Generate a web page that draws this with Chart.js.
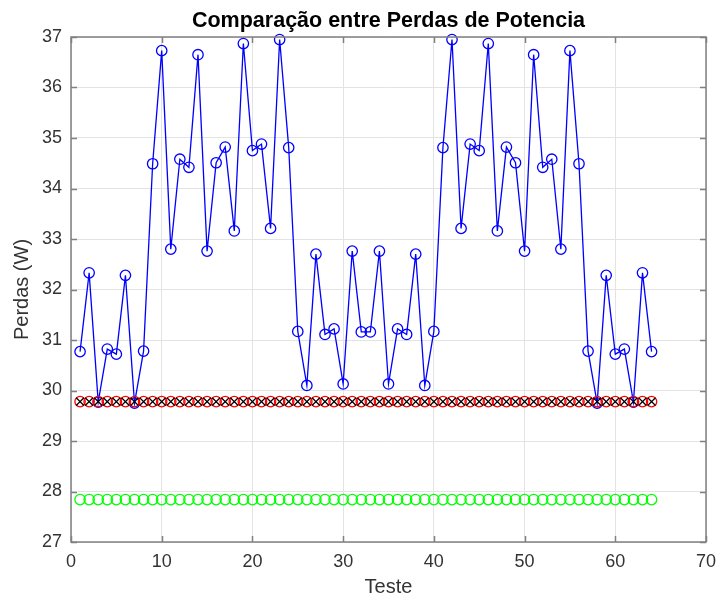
<!DOCTYPE html>
<html>
<head>
<meta charset="utf-8">
<script src="https://cdn.jsdelivr.net/npm/chart.js@4"></script>
<style>
  html, body { margin: 0; padding: 0; background: #ffffff; }
  #wrap { width: 718px; height: 598px; position: relative; }
</style>
</head>
<body>
<div id="wrap"><canvas id="c"></canvas></div>
<script>
// ---- data ----
const testes = [1,2,3,4,5,6,7,8,9,10,11,12,13,14,15,16,17,18,19,20,21,22,23,24,25,26,27,28,29,30,31,32,
                33,34,35,36,37,38,39,40,41,42,43,44,45,46,47,48,49,50,51,52,53,54,55,56,57,58,59,60,61,62,63,64];
const perdasAzul = [30.77,32.33,29.77,30.82,30.72,32.28,29.75,30.78,34.49,36.73,32.80,34.58,34.42,36.65,32.76,34.51,
                    34.82,33.16,36.87,34.75,34.88,33.21,36.95,34.81,31.17,30.10,32.70,31.11,31.22,30.13,32.76,31.16,
                    31.16,32.76,30.13,31.22,31.11,32.70,30.10,31.17,34.81,36.95,33.21,34.88,34.75,36.87,33.16,34.82,
                    34.51,32.76,36.65,34.42,34.58,32.80,36.73,34.49,30.78,29.75,32.28,30.72,30.82,29.77,32.33,30.77];
const perdasVermelho = [29.78,29.78,29.78,29.78,29.78,29.78,29.78,29.78,29.78,29.78,29.78,29.78,29.78,29.78,29.78,29.78,
                        29.78,29.78,29.78,29.78,29.78,29.78,29.78,29.78,29.78,29.78,29.78,29.78,29.78,29.78,29.78,29.78,
                        29.78,29.78,29.78,29.78,29.78,29.78,29.78,29.78,29.78,29.78,29.78,29.78,29.78,29.78,29.78,29.78,
                        29.78,29.78,29.78,29.78,29.78,29.78,29.78,29.78,29.78,29.78,29.78,29.78,29.78,29.78,29.78,29.78];
const perdasPreto = [29.78,29.78,29.78,29.78,29.78,29.78,29.78,29.78,29.78,29.78,29.78,29.78,29.78,29.78,29.78,29.78,
                     29.78,29.78,29.78,29.78,29.78,29.78,29.78,29.78,29.78,29.78,29.78,29.78,29.78,29.78,29.78,29.78,
                     29.78,29.78,29.78,29.78,29.78,29.78,29.78,29.78,29.78,29.78,29.78,29.78,29.78,29.78,29.78,29.78,
                     29.78,29.78,29.78,29.78,29.78,29.78,29.78,29.78,29.78,29.78,29.78,29.78,29.78,29.78,29.78,29.78];
const perdasVerde = [27.84,27.84,27.84,27.84,27.84,27.84,27.84,27.84,27.84,27.84,27.84,27.84,27.84,27.84,27.84,27.84,
                     27.84,27.84,27.84,27.84,27.84,27.84,27.84,27.84,27.84,27.84,27.84,27.84,27.84,27.84,27.84,27.84,
                     27.84,27.84,27.84,27.84,27.84,27.84,27.84,27.84,27.84,27.84,27.84,27.84,27.84,27.84,27.84,27.84,
                     27.84,27.84,27.84,27.84,27.84,27.84,27.84,27.84,27.84,27.84,27.84,27.84,27.84,27.84,27.84,27.84];
const xTicks = [0,10,20,30,40,50,60,70];
const yTicks = [27,28,29,30,31,32,33,34,35,36,37];
const titulo = 'Comparação entre Perdas de Potencia';
const xLabel = 'Teste';
const yLabel = 'Perdas (W)';

const pts = (vals) => testes.map((t, i) => ({x: t, y: vals[i]}));

const FONT = "'Liberation Sans', Arial, Helvetica, sans-serif";
const TXT = '#333333';

const boxPlugin = {
  id: 'matlabBox',
  afterDatasetsDraw(chart) {
    const {ctx, chartArea: {left, right, top, bottom}, scales: {x, y}} = chart;
    ctx.save();
    ctx.strokeStyle = '#808080';
    ctx.lineWidth = 1.5;
    ctx.beginPath();
    x.ticks.forEach(t => {
      const px = Math.round(x.getPixelForValue(t.value)) + 0.5;
      ctx.moveTo(px, bottom); ctx.lineTo(px, bottom - 6);
      ctx.moveTo(px, top); ctx.lineTo(px, top + 6);
    });
    y.ticks.forEach(t => {
      const py = Math.round(y.getPixelForValue(t.value)) + 0.5;
      ctx.moveTo(left, py); ctx.lineTo(left + 6, py);
      ctx.moveTo(right, py); ctx.lineTo(right - 6, py);
    });
    ctx.stroke();
    ctx.strokeRect(left, top, right - left, bottom - top);
    ctx.restore();
  }
};

new Chart(document.getElementById('c'), {
  type: 'line',
  data: {
    datasets: [
      { label: 'azul', data: pts(perdasAzul), borderColor: '#0000ff', backgroundColor: 'rgba(0,0,0,0)',
        borderWidth: 1.3, pointStyle: 'circle', pointRadius: 5.2, pointBorderWidth: 1.3,
        pointBorderColor: '#0000ff', pointBackgroundColor: 'rgba(0,0,0,0)', showLine: true, tension: 0,
        order: 3, clip: false },
      { label: 'vermelho', data: pts(perdasVermelho), borderColor: '#ff0000', backgroundColor: 'rgba(0,0,0,0)',
        pointStyle: 'circle', pointRadius: 5.2, pointBorderWidth: 1.3, pointBorderColor: '#ff0000',
        pointBackgroundColor: 'rgba(0,0,0,0)', showLine: false, order: 2, clip: false },
      { label: 'preto', data: pts(perdasPreto), borderColor: '#000000', backgroundColor: 'rgba(0,0,0,0)',
        pointStyle: 'crossRot', pointRadius: 5.5, pointBorderWidth: 1.2, pointBorderColor: '#000000',
        showLine: false, order: 1, clip: false },
      { label: 'verde', data: pts(perdasVerde), borderColor: '#00ff00', backgroundColor: 'rgba(0,0,0,0)',
        pointStyle: 'circle', pointRadius: 5.2, pointBorderWidth: 1.3, pointBorderColor: '#00ff00',
        pointBackgroundColor: 'rgba(0,0,0,0)', showLine: false, order: 0, clip: false }
    ]
  },
  options: {
    responsive: true,
    maintainAspectRatio: false,
    animation: false,
    events: [],
    layout: { padding: { left: 0, right: 12, top: 0, bottom: 0 } },
    plugins: {
      legend: { display: false },
      tooltip: { enabled: false },
      title: {
        display: true, fullSize: false, text: titulo, color: '#000000',
        font: { family: FONT, size: 21.5, weight: 'bold', lineHeight: 1.2 },
        padding: { top: 8, bottom: 3.2 }
      }
    },
    scales: {
      x: {
        type: 'linear', min: 0, max: 70,
        afterBuildTicks: (s) => { s.ticks = xTicks.map(v => ({value: v})); },
        afterFit: (s) => { s.height = 56; s.paddingLeft = 0; s.paddingRight = 0; },
        ticks: { color: TXT, font: { family: FONT, size: 18 }, padding: 9, maxRotation: 0 },
        grid: { color: '#e3e3e3', lineWidth: 1, drawTicks: false, tickLength: 0 },
        border: { display: false },
        title: { display: true, text: xLabel, color: TXT, font: { family: FONT, size: 20, lineHeight: 1 },
                 padding: { top: 0, bottom: 1 } }
      },
      y: {
        type: 'linear', min: 27, max: 37,
        afterBuildTicks: (s) => { s.ticks = yTicks.map(v => ({value: v})); },
        afterFit: (s) => { s.width = 71; s.paddingTop = 0; s.paddingBottom = 0; },
        ticks: { color: TXT, font: { family: FONT, size: 18 }, padding: 9 },
        grid: { color: '#e3e3e3', lineWidth: 1, drawTicks: false, tickLength: 0 },
        border: { display: false },
        title: { display: true, text: yLabel, color: TXT, font: { family: FONT, size: 20, lineHeight: 1.2 },
                 padding: { top: 10, bottom: 0 } }
      }
    }
  },
  plugins: [boxPlugin]
});
</script>
</body>
</html>
